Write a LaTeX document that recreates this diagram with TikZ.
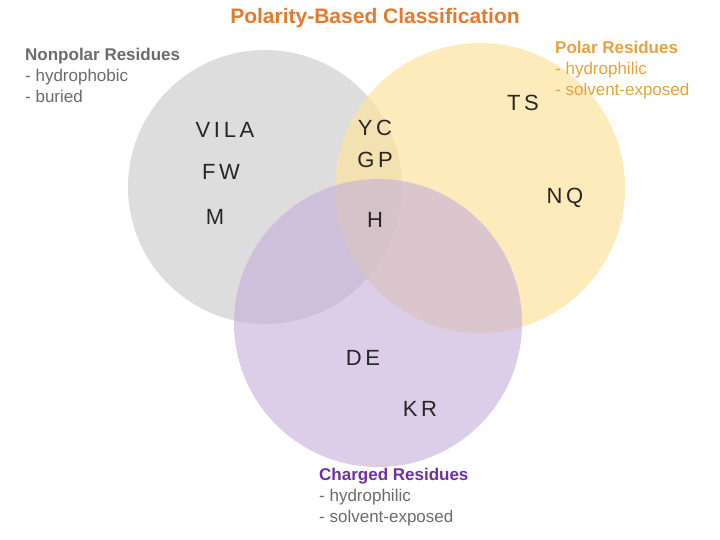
\documentclass[tikz,border=0pt]{standalone}
\usepackage{fontspec}
\setmainfont{Liberation Sans}
\definecolor{cgray}{HTML}{CFCFCF}
\definecolor{cyel}{HTML}{FDE3A0}
\definecolor{cpur}{HTML}{C4AEDA}
\definecolor{torange}{HTML}{E57A2C}
\definecolor{tpolar}{HTML}{E8A23A}
\definecolor{tpur}{HTML}{7030A0}
\definecolor{tgray}{HTML}{6B6B6B}
\begin{document}
\begin{tikzpicture}[x=1pt,y=-1pt,
  res/.style={font=\fontsize{22}{22}\selectfont, text=black!85},
  lab/.style={font=\fontsize{17}{21}\selectfont, align=left, anchor=north west, inner sep=0pt}]
\useasboundingbox (0,0) rectangle (720,540);
\fill[cgray, opacity=0.7] (265,187) circle (137);
\fill[cyel, opacity=0.7] (480,188) circle (145);
\fill[cpur, opacity=0.6] (378,323) circle (144);
\node[font=\bfseries\fontsize{21}{21}\selectfont, text=torange] (title) at (375,18) {Polarity-Based Classification};
\node[lab, text=tgray] (np) at (25,48) {\textbf{Nonpolar Residues}\\- hydrophobic\\- buried};
\node[lab, text=tpolar] (po) at (555,41) {\textbf{Polar Residues}\\- hydrophilic\\- solvent-exposed};
\node[lab, text=tpur] (ch) at (319,468) {\textbf{Charged Residues}\\\textcolor{tgray}{- hydrophilic}\\\textcolor{tgray}{- solvent-exposed}};
\node[res] (vila) at (225,130) {V\,I\,L\,A};
\node[res] (fw) at (221,172) {F\,W};
\node[res] (m) at (215,217) {M};
\node[res] (yc) at (375,128) {Y\,C};
\node[res] (gp) at (375,160) {G\,P};
\node[res] (h) at (375,220) {H};
\node[res] (ts) at (523,103) {T\,S};
\node[res] (nq) at (565,198) {N\,Q};
\node[res] (de) at (363,358) {D\,E};
\node[res] (kr) at (420,409) {K\,R};
\end{tikzpicture}
\end{document}
